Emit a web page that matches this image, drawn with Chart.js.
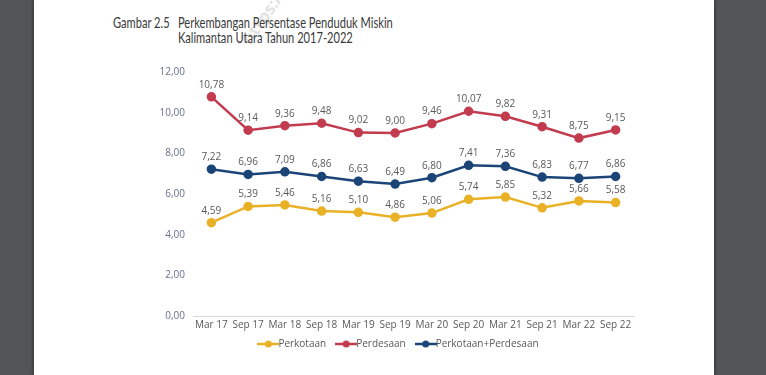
<!DOCTYPE html>
<html>
<head>
<meta charset="utf-8">
<script src="https://cdn.jsdelivr.net/npm/chart.js@4"></script>
<style>
  html, body { margin: 0; padding: 0; }
  body { width: 766px; height: 375px; background: #525659; position: relative; overflow: hidden; }
  #page { position: absolute; left: 34px; top: 0; width: 680px; height: 375px; background: #fff; box-shadow: -2px 0 2px #3f4244, 2px 0 2px #3f4244; overflow: hidden; }
  .t { position: absolute; font-family: Lato, sans-serif; font-size: 15px; color: #3a3a3a; white-space: nowrap; transform: scaleX(0.74); transform-origin: 0 0; line-height: 16px; }
  #wm { position: absolute; left: 218px; top: 30px; font-family: 'Open Sans', sans-serif; font-weight: bold; font-size: 17px; line-height: 17px; color: #e3e3e3; white-space: nowrap; transform: rotate(-55deg); transform-origin: 0 100%; }
  #wrap { position: absolute; left: 0; top: 55px; width: 680px; height: 330px; }
</style>
</head>
<body>
<div id="page">
  <div id="wm">https://kaltara.bps.go.id</div>
  <div class="t" style="left:79px; top:14px;">Gambar 2.5</div>
  <div class="t" style="left:144px; top:14px;">Perkembangan Persentase Penduduk Miskin</div>
  <div class="t" style="left:144px; top:29px;">Kalimantan Utara Tahun 2017-2022</div>
  <div id="wrap"><canvas id="myChart"></canvas></div>
</div>
<script>
var categories = ['Mar 17','Sep 17','Mar 18','Sep 18','Mar 19','Sep 19','Mar 20','Sep 20','Mar 21','Sep 21','Mar 22','Sep 22'];
var perkotaan = [4.59, 5.39, 5.46, 5.16, 5.10, 4.86, 5.06, 5.74, 5.85, 5.32, 5.66, 5.58];
var perdesaan = [10.78, 9.14, 9.36, 9.48, 9.02, 9.00, 9.46, 10.07, 9.82, 9.31, 8.75, 9.15];
var gabungan = [7.22, 6.96, 7.09, 6.86, 6.63, 6.49, 6.80, 7.41, 7.36, 6.83, 6.77, 6.86];
var yTicks = [0, 2, 4, 6, 8, 10, 12];

var fontName = "'Open Sans', sans-serif";

function fmt(v) { return v.toFixed(2).replace('.', ','); }

// little line-with-dot marker for the legend
function legendMark(color) {
    var c = document.createElement('canvas');
    c.width = 22; c.height = 8;
    var g = c.getContext('2d');
    g.strokeStyle = color; g.lineWidth = 2.5;
    g.beginPath(); g.moveTo(0, 4); g.lineTo(22, 4); g.stroke();
    g.fillStyle = color;
    g.beginPath(); g.arc(11, 4, 3.5, 0, Math.PI * 2); g.fill();
    return c;
}

function series(label, data, color) {
    return {
        label: label,
        data: data,
        borderColor: color,
        backgroundColor: color,
        pointBackgroundColor: color,
        pointBorderColor: color,
        borderWidth: 2.5,
        pointRadius: 3.5,
        pointHoverRadius: 3.5,
        tension: 0,
        fill: false,
        pointStyle: 'circle',
        legendMark: legendMark(color)
    };
}

var valueLabels = {
    id: 'valueLabels',
    afterDatasetsDraw: function(chart) {
        var ctx = chart.ctx;
        ctx.save();
        ctx.font = '10px ' + fontName;
        ctx.fillStyle = '#595959';
        ctx.textAlign = 'center';
        ctx.textBaseline = 'middle';
        chart.data.datasets.forEach(function(ds, i) {
            chart.getDatasetMeta(i).data.forEach(function(pt, j) {
                ctx.fillText(fmt(ds.data[j]), pt.x, pt.y - 12);
            });
        });
        ctx.restore();
    }
};

// nudge the legend right and up, like in the report
var legendShift = {
    id: 'legendShift',
    afterLayout: function(chart) {
        var lg = chart.legend;
        lg.left += 17; lg.right += 17;
        lg.top -= 10; lg.bottom -= 10;
    }
};

var ctx = document.getElementById('myChart').getContext('2d');
var chart = new Chart(ctx, {
    type: 'line',
    data: {
        labels: categories,
        datasets: [
            series('Perkotaan', perkotaan, '#E9B126'),
            series('Perdesaan', perdesaan, '#C23B4E'),
            series('Perkotaan+Perdesaan', gabungan, '#1B4577')
        ]
    },
    plugins: [valueLabels, legendShift],
    options: {
        responsive: true,
        maintainAspectRatio: false,
        animation: false,
        layout: { padding: { left: 100, right: 80, top: 17, bottom: 16 } },
        plugins: {
            tooltip: { enabled: false },
            legend: {
                position: 'bottom',
                labels: {
                    usePointStyle: true,
                    color: '#595959',
                    font: { family: fontName, size: 10 },
                    padding: 15,
                    boxHeight: 8,
                    generateLabels: function(chart) {
                        return chart.data.datasets.map(function(ds, i) {
                            return {
                                text: ds.label,
                                pointStyle: ds.legendMark,
                                fillStyle: ds.borderColor,
                                strokeStyle: ds.borderColor,
                                lineWidth: 0,
                                fontColor: '#595959',
                                datasetIndex: i,
                                hidden: false
                            };
                        });
                    }
                }
            }
        },
        scales: {
            x: {
                offset: true,
                grid: { display: false, drawTicks: false },
                border: { display: true, color: '#d9d9d9', width: 1 },
                ticks: { color: '#595959', font: { family: fontName, size: 10 }, padding: 3, maxRotation: 0, autoSkip: false }
            },
            y: {
                min: 0, max: 12,
                afterFit: function(axis) { axis.width = 59; },
                afterBuildTicks: function(axis) { axis.ticks = yTicks.map(function(v) { return { value: v }; }); },
                grid: { display: false, drawTicks: false },
                border: { display: false },
                ticks: { color: '#66708a', font: { family: fontName, size: 10 }, padding: 8, callback: function(v) { return fmt(v); } }
            }
        }
    }
});
</script>
</body>
</html>
